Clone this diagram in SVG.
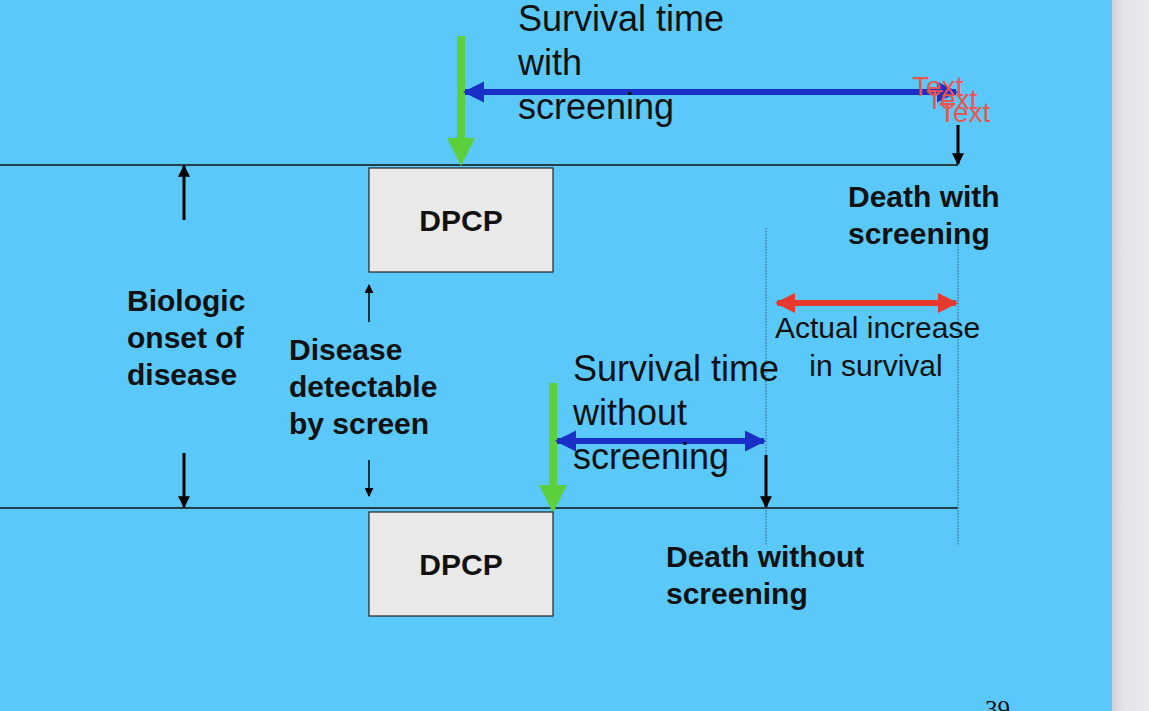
<svg xmlns="http://www.w3.org/2000/svg" width="1149" height="711" viewBox="0 0 1149 711">
<defs>
<linearGradient id="side" x1="0" x2="1" y1="0" y2="0"><stop offset="0" stop-color="#cfd0d4"/><stop offset="0.3" stop-color="#e4e4e8"/><stop offset="1" stop-color="#ebebee"/></linearGradient>
<marker id="bk" viewBox="0 0 10 10" refX="9" refY="5" markerWidth="4" markerHeight="4" orient="auto-start-reverse"><path d="M0,0 L10,5 L0,10 z" fill="#000"/></marker>
<marker id="bks" viewBox="0 0 10 10" refX="9" refY="5" markerWidth="6" markerHeight="6" orient="auto-start-reverse"><path d="M0,0 L10,5 L0,10 z" fill="#000"/></marker>
<marker id="bl" viewBox="0 0 10 10" refX="9" refY="5" markerWidth="3.6" markerHeight="3.6" orient="auto-start-reverse"><path d="M0,0 L10,5 L0,10 z" fill="#1a2fc8"/></marker>
<marker id="rd" viewBox="0 0 10 10" refX="9" refY="5" markerWidth="3.4" markerHeight="3.4" orient="auto-start-reverse"><path d="M0,0 L10,5 L0,10 z" fill="#e8392e"/></marker>
</defs>
<style>
.reg{font-family:"Liberation Sans",Arial,sans-serif;fill:#111;}
.bold{font-family:"Liberation Sans",Arial,sans-serif;font-weight:bold;fill:#111;font-size:30px;}
.box{fill:#e9e9e9;stroke:#222;stroke-width:1.2;}
.hl{stroke:#111;stroke-width:1.5;}
.dot{stroke:#355a7a;stroke-width:1;stroke-dasharray:1.5 1.5;}
.red{font-family:"Liberation Sans",Arial,sans-serif;fill:#e8574f;font-size:28px;}
</style>
<rect x="0" y="0" width="1112" height="711" fill="#5bc8fa"/>
<rect x="1112" y="0" width="37" height="711" fill="url(#side)"/>

<g id="connectors">
<line class="hl" x1="0" y1="165" x2="958" y2="165"/>
<line class="hl" x1="0" y1="508" x2="958" y2="508"/>
<line class="dot" x1="766" y1="228" x2="766" y2="545"/>
<line class="dot" x1="958" y1="228" x2="958" y2="545"/>
<line x1="461" y1="36" x2="461" y2="140" stroke="#5ccf3c" stroke-width="8"/>
<polygon points="447,138 475,138 461,166" fill="#5ccf3c"/>
<line x1="553" y1="383" x2="553" y2="487" stroke="#5ccf3c" stroke-width="8"/>
<polygon points="539,485 567,485 553,513" fill="#5ccf3c"/>
<line x1="465" y1="92" x2="956" y2="92" stroke="#1a2fc8" stroke-width="6" marker-start="url(#bl)" marker-end="url(#bl)"/>
<line x1="557" y1="441" x2="764" y2="441" stroke="#1a2fc8" stroke-width="6" marker-start="url(#bl)" marker-end="url(#bl)"/>
<line x1="777" y1="303" x2="956" y2="303" stroke="#e8392e" stroke-width="6" marker-start="url(#rd)" marker-end="url(#rd)"/>
<line x1="958" y1="125" x2="958" y2="164" stroke="#000" stroke-width="3" marker-end="url(#bk)"/>
<line x1="766" y1="455" x2="766" y2="507" stroke="#000" stroke-width="3" marker-end="url(#bk)"/>
<line x1="184" y1="220" x2="184" y2="166" stroke="#000" stroke-width="3" marker-end="url(#bk)"/>
<line x1="184" y1="453" x2="184" y2="507" stroke="#000" stroke-width="3" marker-end="url(#bk)"/>
<line x1="369" y1="322" x2="369" y2="285" stroke="#000" stroke-width="1.5" marker-end="url(#bks)"/>
<line x1="369" y1="460" x2="369" y2="496" stroke="#000" stroke-width="1.5" marker-end="url(#bks)"/>
</g>

<g id="dpcp-top">
<rect class="box" x="369" y="168" width="184" height="104"/>
<text class="bold" x="461" y="231" text-anchor="middle">DPCP</text>
</g>
<g id="dpcp-bottom">
<rect class="box" x="369" y="512" width="184" height="104"/>
<text class="bold" x="461" y="575" text-anchor="middle">DPCP</text>
</g>

<g id="label-survival-with">
<text class="reg" font-size="36" x="518" y="31">Survival time</text>
<text class="reg" font-size="36" x="518" y="75">with</text>
<text class="reg" font-size="36" x="518" y="119">screening</text>
</g>
<g id="label-survival-without">
<text class="reg" font-size="36" x="573" y="381">Survival time</text>
<text class="reg" font-size="36" x="573" y="425">without</text>
<text class="reg" font-size="36" x="573" y="469">screening</text>
</g>
<g id="label-death-with">
<text class="bold" x="848" y="207">Death with</text>
<text class="bold" x="848" y="244">screening</text>
</g>
<g id="label-death-without">
<text class="bold" x="666" y="567">Death without</text>
<text class="bold" x="666" y="604">screening</text>
</g>
<g id="label-onset">
<text class="bold" x="127" y="311">Biologic</text>
<text class="bold" x="127" y="348">onset of</text>
<text class="bold" x="127" y="385">disease</text>
</g>
<g id="label-detectable">
<text class="bold" x="289" y="360">Disease</text>
<text class="bold" x="289" y="397">detectable</text>
<text class="bold" x="289" y="434">by screen</text>
</g>
<g id="label-increase">
<text class="reg" font-size="30" x="775" y="338">Actual increase</text>
<text class="reg" font-size="30" x="876" y="376" text-anchor="middle">in survival</text>
</g>
<g id="red-texts">
<text class="red" x="912" y="96">Text</text>
<text class="red" x="926" y="109">Text</text>
<text class="red" x="939" y="122">Text</text>
</g>
<text x="985" y="718" font-family="Liberation Serif,serif" font-size="25" fill="#111">39</text>
</svg>
